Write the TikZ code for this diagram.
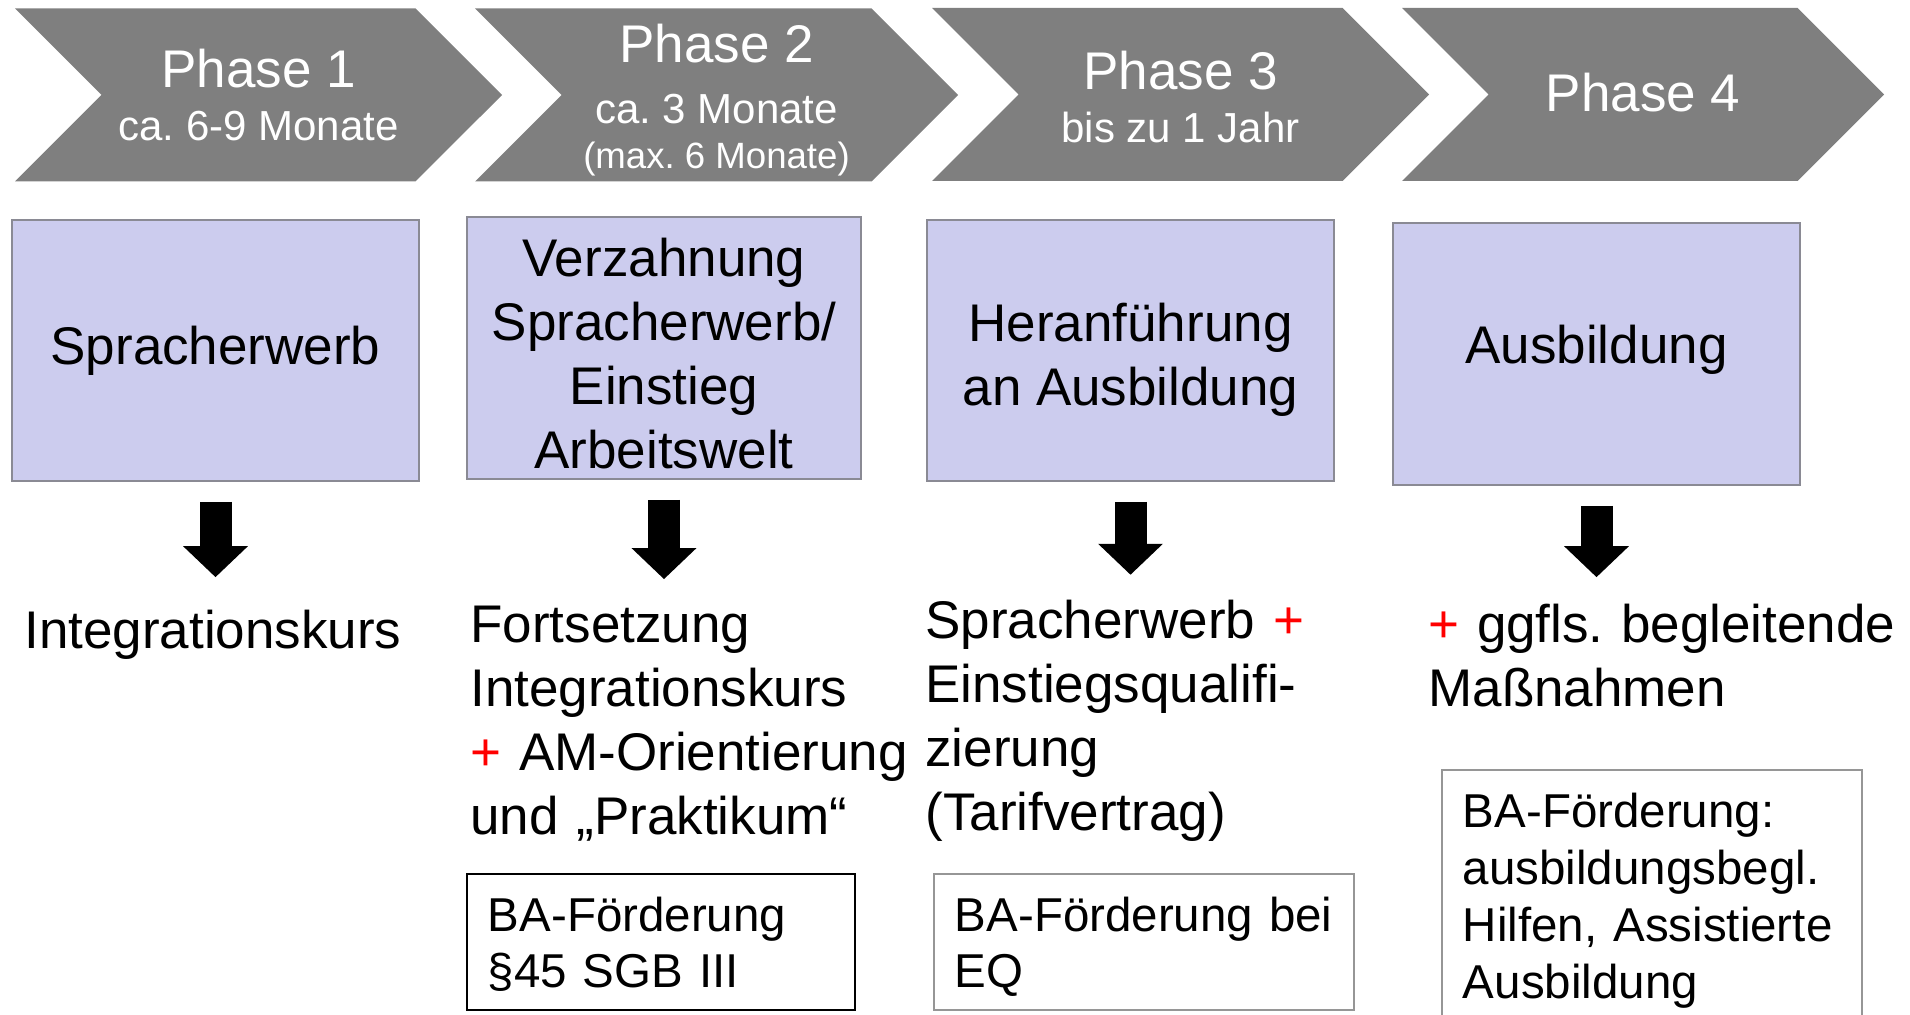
\documentclass[tikz,border=0pt]{standalone}
\usepackage{fontspec}
\setmainfont{Liberation Sans}
\usepackage{tikz}
\usetikzlibrary{shapes.symbols, arrows.meta, positioning}

\definecolor{chevrongray}{RGB}{127,127,127}
\definecolor{stagefill}{RGB}{204,204,238}
\definecolor{stageline}{RGB}{138,138,148}
\definecolor{fundline}{RGB}{150,150,150}
\newcommand{\bodysize}{\fontsize{26.5}{32}\selectfont}
\newcommand{\titlesize}{\fontsize{26.5}{26.5}\selectfont}
\newcommand{\smallsize}{\fontsize{18.3}{22}\selectfont}
\newcommand{\redplus}{\textcolor{red}{+}}
\frenchspacing

\begin{document}
\begin{tikzpicture}[x=0.5pt, y=-0.5pt,
    phase/.style={shape=signal, signal from=west, signal to=east, signal pointer angle=90,
        fill=chevrongray, text=white, minimum width=243.5pt, minimum height=86.5pt,
        inner sep=0pt, align=center, font=\fontsize{21}{26.5}\selectfont},
    stage/.style={draw=stageline, line width=1pt, fill=stagefill, minimum width=203.5pt,
        minimum height=130.5pt, inner sep=0pt, align=center, font=\bodysize},
    result/.style={anchor=base west, align=left, inner sep=0pt, text width=245pt, font=\bodysize},
    fund/.style={draw=fundline, line width=0.9pt, anchor=north west, align=left,
        inner xsep=10.5pt, inner ysep=6pt, text width=189pt, text height=23pt,
        text depth=33pt, font=\fontsize{23.75}{28}\selectfont},
    bigarrow/.style={-{Triangle[width=31.5pt, length=15.5pt]}, line width=16pt, black,
        shorten <=10pt, shorten >=13pt}
]
    \useasboundingbox (0,0) rectangle (1910,1015);

    % Chevron band with the four phases.
    \node[phase] (phase1) at (258.5,95) {{\titlesize Phase 1}\\ca. 6-9 Monate};
    \node[phase, minimum width=241.5pt] (phase2) at (716.5,95)
        {{\titlesize\rule{0pt}{24.3pt}Phase 2}\\[4pt]ca. 3 Monate\\[-4pt]{\smallsize (max. 6 Monate)}};
    \node[phase, minimum width=248.5pt] (phase3) at (1180.5,94.5)
        {{\titlesize\rule{0pt}{21.8pt}Phase 3}\\bis zu 1 Jahr};
    \node[phase, minimum width=241pt, text depth=2.5pt] (phase4) at (1643,94.5) {{\titlesize Phase 4}};

    % Stage boxes below each phase.
    \node[stage] (spracherwerb) at (215.5,350.5) {Spracherwerb};
    \node[stage, minimum width=197pt, minimum height=131pt, text height=121pt, text depth=0.5pt]
        (verzahnung) at (664,348) {Verzahnung\\Spracherwerb/\\Einstieg\\Arbeitswelt};
    \node[stage, text height=57pt, text depth=1.5pt] (heranfuehrung) at (1130.5,350.5)
        {Heranführung\\an Ausbildung};
    \node[stage, minimum height=131pt, text height=19.5pt, text depth=9.5pt] (ausbildung)
        at (1596.5,354) {Ausbildung};

    % What each stage leads to.
    \node[result] (kurs) at (24,648) {Integrationskurs};
    \node[result] (fortsetzung) at (470,642)
        {Fortsetzung\\Integrationskurs\\\redplus{} AM-Orientierung\\und „Praktikum“};
    \node[result] (eqkombi) at (925,638)
        {Spracherwerb \redplus\\Einstiegsqualifi-\\zierung\\(Tarifvertrag)};
    \node[result] (massnahmen) at (1428,642) {\redplus{} ggfls. begleitende\\Maßnahmen};

    \draw[bigarrow, shorten >=16pt] (spracherwerb) -- (spracherwerb |- kurs.north);
    \draw[bigarrow] (verzahnung) -- (verzahnung |- fortsetzung.north);
    \draw[bigarrow, shorten >=12.2pt] (heranfuehrung) -- (heranfuehrung |- eqkombi.north);
    \draw[bigarrow] (ausbildung) -- (ausbildung |- massnahmen.north);

    % Funding boxes.
    \node[fund, draw=black, text width=173pt] (foerderung45) at (466,873) {BA-Förderung\\§45 SGB III};
    \node[fund] (foerderungeq) at (933,873) {BA-Förderung bei\\EQ};
    \node[fund, font=\fontsize{23.75}{28.5}\selectfont, text depth=110pt] (foerderungabh)
        at (1441,769) {BA-Förderung:\\ausbildungsbegl.\\Hilfen, Assistierte\\Ausbildung};

\end{tikzpicture}
\end{document}
